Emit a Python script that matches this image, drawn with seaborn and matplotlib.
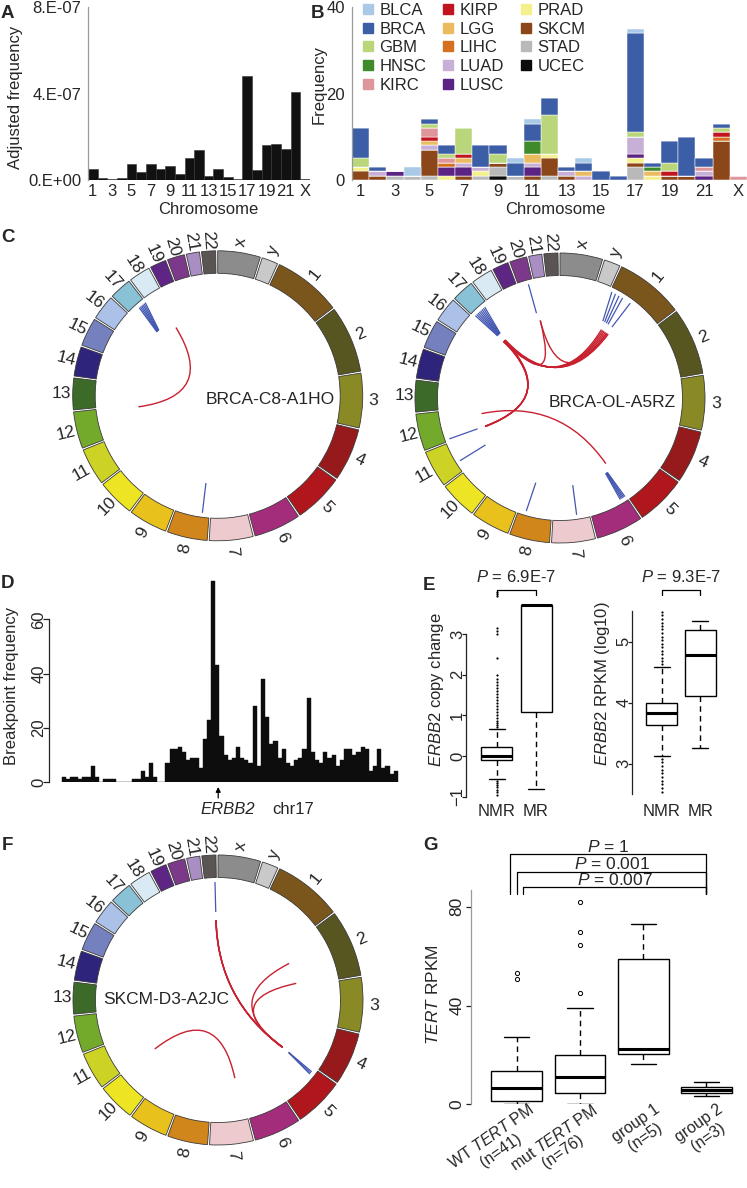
import numpy as np
import pandas as pd
import matplotlib
matplotlib.use("Agg")
import matplotlib.pyplot as plt
import seaborn as sns
from matplotlib.patches import Wedge, PathPatch
from matplotlib.path import Path
from matplotlib.lines import Line2D

# ======================= DATA =======================
chrom_names = [str(i) for i in range(1, 23)] + ["X"]

# Panel A: adjusted frequency (units of 1e-7)
adj_freq = [0.50, 0.10, 0.05, 0.10, 0.74, 0.36, 0.74, 0.50, 0.66, 0.30, 1.02, 1.41,
            0.20, 0.50, 0.13, 0.05, 4.81, 0.44, 1.61, 1.65, 1.44, 4.06, 0.03]

# Panel B: counts per chromosome (1..22, X) for each tumour type
cancer_types = ["BLCA", "BRCA", "GBM", "HNSC", "KIRC", "KIRP", "LGG", "LIHC",
                "LUAD", "LUSC", "PRAD", "SKCM", "STAD", "UCEC"]
cancer_colors = ["#a9c9e7", "#3c5ea6", "#b9d67b", "#3f8b2c", "#df969b", "#c1141f", "#eabb5f",
                 "#d5701f", "#c8afd6", "#5b2383", "#f4f08c", "#8b4719", "#b9b9b9", "#0b0b0b"]
BLCA = [0, 0, 0, 2, 0, 0, 0, 0, 0, 1, 1, 0, 0, 1, 0, 0, 1, 0, 0, 0, 0, 0, 0]
BRCA = [7, 1, 0, 0, 1, 2, 0, 5, 2, 3, 4, 4, 1, 2, 2, 1, 23, 1, 5, 9, 2, 1, 0]
GBM = [2, 0, 0, 0, 1, 1, 6, 0, 2, 0, 0, 9, 0, 0, 0, 0, 1, 0, 2, 0, 0, 1, 0]
HNSC = [0, 0, 0, 0, 0, 0, 0, 0, 0, 0, 3, 0, 0, 0, 0, 0, 0, 1, 0, 0, 0, 0, 0]
KIRC = [0, 0, 0, 0, 2, 1, 0, 0, 0, 0, 0, 0, 0, 0, 0, 0, 0, 0, 0, 0, 1, 0, 1]
KIRP = [0, 0, 0, 0, 1, 0, 1, 0, 0, 0, 0, 0, 0, 0, 0, 0, 0, 0, 1, 0, 0, 1, 0]
LGG = [0, 0, 0, 0, 1, 0, 1, 0, 0, 0, 2, 0, 0, 1, 0, 0, 0, 1, 0, 0, 0, 0, 0]
LIHC = [0, 0, 0, 0, 0, 1, 0, 0, 0, 0, 0, 0, 0, 0, 0, 0, 0, 0, 0, 0, 0, 1, 0]
LUAD = [0, 1, 0, 0, 1, 0, 1, 1, 0, 0, 1, 0, 1, 1, 0, 0, 4, 0, 0, 0, 1, 0, 0]
LUSC = [0, 0, 1, 0, 0, 2, 2, 0, 0, 0, 2, 0, 0, 0, 0, 0, 1, 0, 0, 0, 1, 0, 0]
PRAD = [1, 0, 0, 0, 0, 1, 0, 1, 0, 0, 0, 1, 0, 0, 0, 0, 1, 1, 0, 0, 0, 0, 0]
SKCM = [2, 1, 0, 0, 6, 0, 1, 0, 1, 0, 1, 4, 1, 0, 0, 0, 1, 0, 1, 1, 0, 9, 0]
STAD = [0, 0, 1, 1, 1, 0, 0, 1, 2, 1, 0, 1, 0, 0, 0, 0, 3, 0, 0, 0, 0, 0, 0]
UCEC = [0, 0, 0, 0, 0, 0, 0, 0, 1, 0, 0, 0, 0, 0, 0, 0, 0, 0, 0, 0, 0, 0, 0]
type_counts = [BLCA, BRCA, GBM, HNSC, KIRC, KIRP, LGG, LIHC, LUAD, LUSC, PRAD, SKCM, STAD, UCEC]

# Circos ideogram (order clockwise from top), lengths in Mb
circ_chroms = ["X", "Y"] + [str(i) for i in range(1, 23)]
circ_len = [155, 59, 249, 243, 198, 191, 181, 171, 159, 146, 141, 136, 135, 134,
            115, 107, 103, 90, 81, 78, 59, 63, 48, 51]
circ_colors = ["#8c8c8c", "#c9c9c9", "#7b561c", "#575520", "#898a26", "#961a1b", "#b0171c",
               "#a32d7b", "#eccace", "#d1861c", "#e8c11c", "#ede523", "#ccd324", "#74aa2b",
               "#3c6b29", "#2e247b", "#7580bf", "#abc1e8", "#89c1d6", "#d9eaf4", "#5e2584",
               "#7c3889", "#a98ec3", "#5a5453"]

# blue segments: (chrom, pos at inner end, pos at outer end) ; red links: (chr1, pos1, chr2, pos2)
c1_blue = [("17", 28, 45), ("17", 31, 52), ("17", 34, 59), ("17", 37, 66), ("17", 40, 73),
           ("17", 43, 80), ("8", 32, 30)]
c1_links = [("18", 50, "12", 120)]
c2_blue = [("20", 43, 43), ("1", 36, 8), ("1", 48, 26), ("1", 60, 44), ("1", 72, 62),
           ("1", 100, 103), ("17", 14, 8), ("17", 17, 16), ("17", 20, 24), ("17", 23, 32),
           ("17", 26, 40), ("17", 29, 48), ("17", 32, 56), ("17", 35, 64), ("12", 6, 8),
           ("11", 42, 43), ("8", 107, 113), ("7", 53, 55), ("6", 12, 4), ("6", 15, 10),
           ("6", 18, 16), ("6", 21, 22), ("6", 24, 28)]
c2_links = [("17", 14, "1", 55), ("17", 17, "1", 65), ("17", 20, "1", 75), ("17", 23, "1", 85),
            ("17", 26, "1", 95), ("17", 30, "1", 108), ("17", 16, "12", 2), ("17", 19, "12", 3),
            ("17", 22, "12", 4), ("17", 25, "12", 5), ("20", 54, "17", 28), ("20", 54, "1", 100),
            ("12", 90, "5", 178)]
f_blue = [("22", 45, 45), ("5", 10, 18), ("5", 10, 25), ("5", 11, 31)]
f_links = [("22", 44, "5", 5), ("22", 45, "5", 6), ("22", 46, "5", 7), ("22", 45, "5", 8),
           ("2", 85, "5", 7), ("2", 223, "5", 8), ("10", 135, "7", 18)]

# Panel D: breakpoint counts on chr17 (1-Mb bins)
bp_freq = [2, 1, 2, 2, 1, 2, 2, 6, 2, 0, 1, 1, 1, 0, 0, 0, 0, 1, 1, 4, 2, 7, 2, 0, 0,
           7, 12, 12, 13, 11, 8, 9, 9, 5, 16, 23, 74, 43, 17, 10, 8, 9, 13, 9, 8, 7, 28,
           6, 38, 24, 14, 15, 9, 12, 7, 6, 8, 9, 12, 31, 11, 8, 7, 11, 9, 10, 6, 8, 12,
           12, 10, 11, 13, 12, 4, 6, 12, 5, 6, 3, 4]
erbb2_bin = 37.2

# Panel E: five-number summaries + outliers
e_groups = ["NMR", "MR"]
cn_lo = [-0.57, -0.82]
cn_q1 = [-0.10, 1.09]
cn_med = [0.00, 3.70]
cn_q3 = [0.21, 3.70]
cn_hi = [0.66, 3.70]
cn_out_grp = ["NMR"] * 33
cn_out_val = [0.71, 0.75, 0.80, 0.86, 0.93, 1.00, 1.08, 1.15, 1.23, 1.30, 1.38, 1.45, 1.53,
              1.60, 1.68, 1.75, 1.83, 1.90, 1.98, 2.42, 3.00, 3.08, 3.15, 3.92, 3.97, 4.02,
              -0.61, -0.66, -0.71, -0.77, -0.83, -0.89, -0.95]
rp_lo = [3.13, 3.26]
rp_q1 = [3.63, 4.11]
rp_med = [3.83, 4.78]
rp_q3 = [4.00, 5.19]
rp_hi = [4.58, 5.34]
rp_out_grp = ["NMR"] * 26
rp_out_val = [4.63, 4.68, 4.74, 4.80, 4.85, 4.91, 4.97, 5.02, 5.08, 5.14, 5.20, 5.26, 5.31,
              5.37, 5.43, 5.48, 3.08, 3.02, 2.96, 2.90, 2.84, 2.78, 2.72, 2.66, 2.60, 2.54]

# Panel G
g_groups = ["WT $\\it{TERT}$ PM\n(n=41)", "mut $\\it{TERT}$ PM\n(n=76)",
            "group 1\n(n=5)", "group 2\n(n=3)"]
tert_lo = [0.0, 0.0, 16.2, 3.4]
tert_q1 = [1.3, 4.5, 20.2, 4.5]
tert_med = [6.7, 10.9, 22.3, 5.8]
tert_q3 = [13.6, 20.0, 58.8, 7.1]
tert_hi = [27.1, 39.1, 72.9, 8.9]
tert_out_grp = [0, 0, 1, 1, 1, 1]
tert_out_val = [50.6, 53.3, 45.2, 64.5, 69.6, 82.0]
g_pvals = ["$\\it{P}$ = 0.007", "$\\it{P}$ = 0.001", "$\\it{P}$ = 1"]
g_pairs = [(1, 3), (2, 3), (3, 3)]

# ======================= STYLE =======================
sns.set_theme(style="white")
plt.rcParams["font.family"] = ["Liberation Sans", "DejaVu Sans"]
plt.rcParams["mathtext.fontset"] = "custom"
plt.rcParams["mathtext.rm"] = "Liberation Sans"
plt.rcParams["mathtext.it"] = "Liberation Sans:italic"
plt.rcParams["font.size"] = 12
plt.rcParams["axes.linewidth"] = 0.9

W, H = 747, 1188
fig = plt.figure(figsize=(W / 100, H / 100), dpi=100)


def ax_px(l, t, r, b):
    return fig.add_axes([l / W, 1 - b / H, (r - l) / W, (b - t) / H])


def ftext(x, y, s, **kw):
    kw.setdefault("ha", "center")
    kw.setdefault("va", "center")
    return fig.text(x / W, 1 - y / H, s, **kw)


for lab, (x, y) in zip("ABCDEFG", [(7, 14), (318, 14), (8, 238), (8, 584), (429, 585), (7, 846), (431, 846)]):
    ftext(x, y, lab, fontsize=13.5, fontweight="bold")

# ======================= PANEL A =======================
axA = ax_px(88, 7, 310, 180)
sns.barplot(x=chrom_names, y=[v * 1e-7 for v in adj_freq], color="#111111", saturation=1,
            width=1.0, edgecolor="#333333", linewidth=0.4, errorbar=None, ax=axA)
axA.set_xlim(-0.5, 22.5)
axA.set_ylim(0, 8e-7)
axA.set_yticks([0, 4e-7, 8e-7])
axA.set_yticklabels(["0.E+00", "4.E-07", "8.E-07"])
axA.set_xticks(range(0, 23, 2))
axA.set_xticklabels(chrom_names[::2])
axA.set_xlabel("")
axA.set_ylabel("")
for s in ["top", "right", "bottom"]:
    axA.spines[s].set_visible(False)
axA.spines["left"].set_color("#9a9a9a")
axA.tick_params(axis="y", length=3, color="#9a9a9a", pad=2, labelsize=12)
axA.tick_params(axis="x", length=0, pad=3, labelsize=12)
ftext(16, 97, "Adjusted frequency", rotation=90)
ftext(208, 210, "Chromosome")

# ======================= PANEL B =======================
axB = ax_px(352, 7, 747, 180)
rows = []
for t, counts in zip(cancer_types, type_counts):
    for i, c in enumerate(counts):
        rows.append({"pos": i + 1, "type": t, "count": c})
dfB = pd.DataFrame(rows)
sns.histplot(data=dfB, x="pos", weights="count", hue="type", hue_order=cancer_types,
             palette=cancer_colors, multiple="stack", discrete=True, shrink=1, alpha=1,
             edgecolor="white", linewidth=0.35, legend=False, ax=axB)
axB.set_xlim(0.5, 23.5)
axB.set_ylim(0, 40)
axB.set_yticks([0, 20, 40])
axB.set_xticks(range(1, 24, 2))
axB.set_xticklabels(chrom_names[::2])
axB.set_xlabel("")
axB.set_ylabel("")
for s in ["top", "right", "bottom"]:
    axB.spines[s].set_visible(False)
axB.spines["left"].set_color("#9a9a9a")
axB.tick_params(axis="y", length=3, color="#9a9a9a", pad=2, labelsize=12)
axB.tick_params(axis="x", length=0, pad=3, labelsize=12)
ftext(319, 84, "Frequency", rotation=90)
ftext(555, 210, "Chromosome")
handles = [Line2D([0], [0], marker="s", linestyle="none", markersize=6.5,
                  markerfacecolor=c, markeredgecolor=c) for c in cancer_colors]
axB.legend(handles, cancer_types, ncol=3, loc="upper left", bbox_to_anchor=(362 / W, 1 - 3 / H),
           bbox_transform=fig.transFigure, frameon=False, fontsize=12, handlelength=0.7,
           handletextpad=0.35, columnspacing=0.95, labelspacing=0.22, borderpad=0,
           borderaxespad=0)

# ======================= CIRCOS =======================
GAP = 0.8
SCALE = (360 - GAP * len(circ_len)) / sum(circ_len)
starts = {}
_a = 0.0
for c, L in zip(circ_chroms, circ_len):
    starts[c] = _a
    _a += L * SCALE + GAP
R_OUT, R_IN, R_LAB, R_LINK = 145, 122.5, 156, 80
RED, BLUE = "#c8202f", "#4357b2"


def ang(c, p):
    return starts[c] + p * SCALE


def polar(theta, r):
    t = np.deg2rad(theta)
    return r * np.sin(t), r * np.cos(t)


def draw_circos(cx, cy, sample, lab_xy, blue, links):
    ax = ax_px(cx - 180, cy - 180, cx + 180, cy + 180)
    ax.set_xlim(-180, 180)
    ax.set_ylim(-180, 180)
    ax.axis("off")
    for c, L, col in zip(circ_chroms, circ_len, circ_colors):
        a0 = starts[c]
        a1 = a0 + L * SCALE
        ax.add_patch(Wedge((0, 0), R_OUT, 90 - a1, 90 - a0, width=R_OUT - R_IN,
                           facecolor=col, edgecolor="#3a3a3a", lw=0.6))
        am = (a0 + a1) / 2
        rot = 90 - am if am <= 180 else 270 - am
        x, y = polar(am, R_LAB)
        ax.text(x, y, c.lower(), rotation=rot, ha="center", va="center",
                rotation_mode="anchor", fontsize=12.5)
    for c, p_in, p_out in blue:
        x0, y0 = polar(ang(c, p_in), 88)
        x1, y1 = polar(ang(c, p_out), 118)
        ax.plot([x0, x1], [y0, y1], color=BLUE, lw=0.9, solid_capstyle="butt")
    for c1, p1, c2, p2 in links:
        P0 = polar(ang(c1, p1), R_LINK)
        P2 = polar(ang(c2, p2), R_LINK)
        path = Path([P0, (0, 0), P2], [Path.MOVETO, Path.CURVE3, Path.CURVE3])
        ax.add_patch(PathPatch(path, facecolor="none", edgecolor=RED, lw=1.0))
    ax.text(lab_xy[0], lab_xy[1], sample, ha="center", va="center", fontsize=12.5)


draw_circos(217.7, 395.8, "BRCA-C8-A1HO", (52, -4), c1_blue, c1_links)
draw_circos(560, 398, "BRCA-OL-A5RZ", (52, -4), c2_blue, c2_links)
draw_circos(218, 1000, "SKCM-D3-A2JC", (-52, 0), f_blue, f_links)

# ======================= helpers for R-like axes =======================
def r_style_y(ax, ticks, bounds, length, pad, labelsize=12, spine_color="#222222"):
    for s in ["top", "right", "bottom"]:
        ax.spines[s].set_visible(False)
    if bounds is not None:
        ax.spines["left"].set_bounds(*bounds)
    ax.spines["left"].set_color(spine_color)
    ax.set_yticks(ticks)
    ax.tick_params(axis="y", length=length, width=0.9, color="#222222", pad=pad,
                   labelsize=labelsize, labelrotation=90, left=True)
    for t in ax.get_yticklabels():
        t.set_va("center")


# ======================= PANEL D =======================
axD = ax_px(49, 570.5, 400, 782)
sns.barplot(x=list(range(len(bp_freq))), y=bp_freq, color="#0d0d0d", saturation=1, width=1.0,
            edgecolor="#0d0d0d", linewidth=0.3, errorbar=None, ax=axD)
axD.set_xlim(-3.56, 81.0)
axD.set_ylim(0, 78)
axD.set_xticks([])
axD.set_xlabel("")
axD.set_ylabel("")
r_style_y(axD, [0, 20, 40, 60], (0, 60), length=4.1, pad=-2.1)
ftext(12, 686, "Breakpoint frequency", rotation=90)
axD.annotate("", xy=(erbb2_bin, H - 787), xytext=(erbb2_bin, H - 798),
             xycoords=("data", "figure pixels"), textcoords=("data", "figure pixels"),
             arrowprops=dict(arrowstyle="-|>", lw=0.9, color="black", mutation_scale=7,
                             shrinkA=0, shrinkB=0))
ftext(228, 810, "ERBB2", style="italic")
ftext(293, 810, "chr17")

# ======================= PANEL E =======================
BOXKW = dict(whis=(0, 100), color="white", linecolor="black", linewidth=1.0,
             showfliers=False, whiskerprops={"linestyle": (0, (4, 3))},
             medianprops={"linewidth": 2.2})


def five_df(groups, lo, q1, med, q3, hi):
    vals, grps = [], []
    for g, a, b, c, d, e in zip(groups, lo, q1, med, q3, hi):
        vals += [a, b, c, d, e]
        grps += [g] * 5
    return pd.DataFrame({"grp": grps, "val": vals})


axE1 = ax_px(465.7, 590, 560, 797)
sns.boxplot(data=five_df(e_groups, cn_lo, cn_q1, cn_med, cn_q3, cn_hi), x="grp", y="val",
            order=e_groups, width=0.79, ax=axE1, **BOXKW)
sns.stripplot(x=cn_out_grp, y=cn_out_val, order=e_groups, jitter=False, size=1.6,
              color="black", ax=axE1)
axE1.set_xlim(-0.79, 1.61)
axE1.set_ylim(-1.007, 4.079)
r_style_y(axE1, [-1, 0, 1, 2, 3], (-1, 3), length=2.9, pad=-2.5)
axE1.set_xlabel("")
axE1.set_ylabel("")
axE1.tick_params(axis="x", length=0, pad=5, labelsize=12)
axE1.plot([0, 0, 1, 1], [3.956, 4.079, 4.079, 3.956], color="black", lw=0.9, clip_on=False)
axE1.text(0.5, 4.405, "$\\it{P}$ = 6.9E-7", ha="center", va="center", fontsize=12)
ftext(437, 690, "$\\it{ERBB2}$ copy change", rotation=90)

axE2 = ax_px(632.3, 590, 730, 797)
sns.boxplot(data=five_df(e_groups, rp_lo, rp_q1, rp_med, rp_q3, rp_hi), x="grp", y="val",
            order=e_groups, width=0.81, ax=axE2, **BOXKW)
sns.stripplot(x=rp_out_grp, y=rp_out_val, order=e_groups, jitter=False, size=1.6,
              color="black", ax=axE2)
axE2.set_xlim(-0.77, 1.78)
axE2.set_ylim(2.454, 5.847)
r_style_y(axE2, [3, 4, 5], (2.5, 5.5), length=2.9, pad=-2.5)
axE2.set_xlabel("")
axE2.set_ylabel("")
axE2.tick_params(axis="x", length=0, pad=5, labelsize=12)
axE2.plot([0, 0, 1, 1], [5.765, 5.847, 5.847, 5.765], color="black", lw=0.9, clip_on=False)
axE2.text(0.5, 6.068, "$\\it{P}$ = 9.3E-7", ha="center", va="center", fontsize=12)
ftext(603, 684, "$\\it{ERBB2}$ RPKM (log10)", rotation=90)

# ======================= PANEL G =======================
axG = ax_px(470.7, 890, 740, 1104.3)
g_keys = ["g0", "g1", "g2", "g3"]
sns.boxplot(data=five_df(g_keys, tert_lo, tert_q1, tert_med, tert_q3, tert_hi), x="grp",
            y="val", order=g_keys, width=0.8, ax=axG, **BOXKW)
sns.stripplot(x=[g_keys[i] for i in tert_out_grp], y=tert_out_val, order=g_keys, jitter=False,
              size=3, marker="o", color="white", edgecolor="black", linewidth=0.7, ax=axG)
axG.set_xlim(-0.727, 3.53)
axG.set_ylim(0, 86.8)
r_style_y(axG, [0, 40, 80], None, length=3.4, pad=1.1, labelsize=12.5, spine_color="#9a9a9a")
axG.set_xticks([])
axG.set_xlabel("")
axG.set_ylabel("")
for i, lab in enumerate(g_groups):
    axG.text(i + 0.17, 0.012, lab, transform=axG.get_xaxis_transform(), rotation=35,
             ha="right", va="top", rotation_mode="anchor", multialignment="center",
             fontsize=11.5, linespacing=1.1)
ftext(433, 995, "$\\it{TERT}$ RPKM", rotation=90, fontsize=12.5)
bracket_top = [87.9, 94.2, 101.2]
left_x = [0.105, 0.0, -0.105]
for (pv, (a, b), top, lx) in zip(g_pvals, g_pairs, bracket_top, left_x):
    axG.plot([lx, lx, b, b], [85.1, top, top, 85.1], color="black", lw=0.9, clip_on=False)
    axG.text((lx + b) / 2, top + 3.0, pv, ha="center", va="center", fontsize=12.5)

fig.savefig("out.png", dpi=100)
